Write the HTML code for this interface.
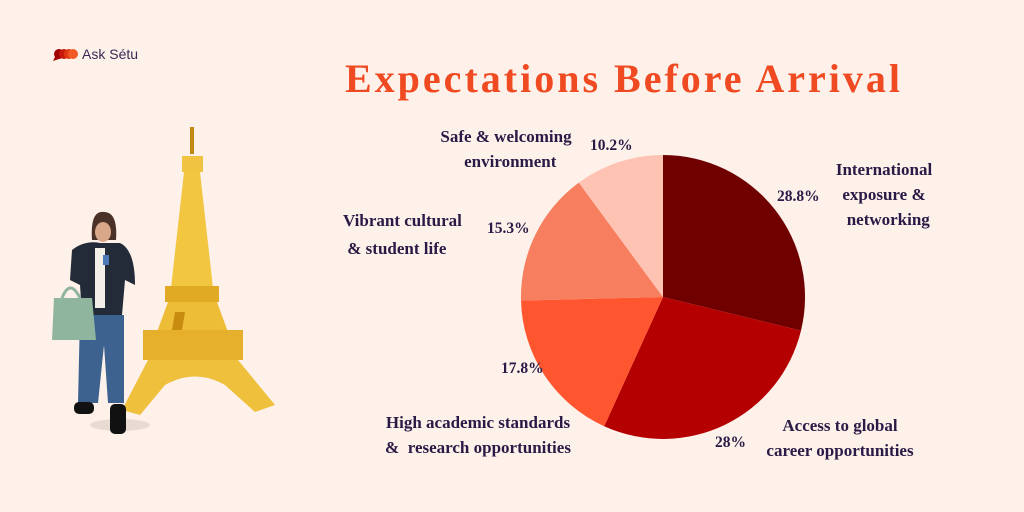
<!DOCTYPE html>
<html><head><style>
body{margin:0;width:1024px;height:512px;background:#fdf1ea;overflow:hidden;position:relative;font-family:"Liberation Serif",serif}
.t{position:absolute;font-weight:bold;color:#2a1a45;font-size:17px;line-height:25px;white-space:nowrap}
.p{font-size:15.5px}
.c{text-align:center}
</style></head><body>
<svg width="1024" height="512" style="position:absolute;left:0;top:0">
<g>
<circle cx="59" cy="54" r="5" fill="#a00000"/><circle cx="64" cy="54" r="5" fill="#c81a0a"/>
<circle cx="69" cy="54" r="5" fill="#e03a15"/><circle cx="73" cy="54" r="5" fill="#f25a25"/>
<path d="M55 57 L53 61 L59 59Z" fill="#a00000"/>
</g>
<text x="82" y="59" font-family="Liberation Sans,sans-serif" font-size="14" fill="#3a2a55">Ask Sétu</text>
<text x="345" y="92" font-family="Liberation Serif,serif" font-weight="bold" font-size="40" textLength="555" lengthAdjust="spacing" fill="#f04a22">Expectations Before Arrival</text>
<path d="M663 297 L663 155 A142 142 0 0 1 801 330.6Z" fill="#700000"/>
<path d="M663 297 L801 330.6 A142 142 0 0 1 604.2 426.2Z" fill="#b40000"/>
<path d="M663 297 L604.2 426.2 A142 142 0 0 1 521 300.6Z" fill="#ff5630"/>
<path d="M663 297 L521 300.6 A142 142 0 0 1 578.8 182.6Z" fill="#f77f60"/>
<path d="M663 297 L578.8 182.6 A142 142 0 0 1 663 155Z" fill="#ffc3b3"/>
<g fill="#e8b830">
<rect x="190" y="127" width="4" height="27" fill="#c08a10"/>
<path d="M182 156 L203 156 L203 172 L182 172Z" fill="#f0c440"/>
<path d="M184 172 L200 172 L213 288 L171 288Z" fill="#f2c640"/>
<rect x="165" y="286" width="54" height="16" fill="#e0aa25"/>
<path d="M168 302 L217 302 L228 332 L157 332Z" fill="#eebd38"/>
<rect x="143" y="330" width="100" height="30" fill="#e6b02c"/>
<path d="M148 360 L238 360 L275 405 L255 412 L225 385 Q195 368 165 385 L140 415 L122 410Z" fill="#efc03c"/>
<path d="M175 312 L185 312 L182 330 L172 330Z" fill="#c88d10"/>
</g>
<ellipse cx="120" cy="425" rx="30" ry="6" fill="#e8dcd2"/>
<path d="M92 240 Q90 210 104 212 Q118 212 116 240Z" fill="#4a3228"/>
<ellipse cx="103" cy="232" rx="8" ry="10" fill="#d9a88a"/>
<path d="M72 250 Q85 240 100 243 L120 243 Q135 250 135 285 L125 280 L122 315 L82 315 L80 285 L70 280Z" fill="#232a38"/>
<rect x="95" y="248" width="10" height="60" fill="#f2efe9"/>
<path d="M80 315 L124 315 L124 403 L108 403 L104 345 L98 403 L78 403Z" fill="#3d6290"/>
<rect x="74" y="402" width="20" height="12" rx="5" fill="#111"/>
<rect x="110" y="404" width="16" height="30" rx="5" fill="#111"/>
<path d="M54 298 L92 298 L96 340 L52 340Z" fill="#8fb59f"/>
<path d="M62 298 Q70 278 80 298" stroke="#8fb59f" stroke-width="3" fill="none"/>
<rect x="103" y="255" width="6" height="10" fill="#4a7ab8"/>
</svg>
<div class="t c" style="left:430px;width:152px;top:124px">Safe &amp; welcoming<br>&nbsp;&nbsp;environment</div>
<div class="t p" style="left:590px;top:133px">10.2%</div>
<div class="t" style="left:343px;top:207px;line-height:28px">Vibrant cultural<br>&nbsp;&amp; student life</div>
<div class="t p" style="left:487px;top:216px">15.3%</div>
<div class="t p" style="left:777px;top:184px">28.8%</div>
<div class="t c" style="left:824px;width:120px;top:157px">International<br>exposure &amp;<br>&nbsp;&nbsp;networking</div>
<div class="t p" style="left:501px;top:356px">17.8%</div>
<div class="t c" style="left:373px;width:210px;top:410px">High academic standards<br>&amp;&nbsp; research opportunities</div>
<div class="t p" style="left:715px;top:430px">28%</div>
<div class="t c" style="left:755px;width:170px;top:413px">Access to global<br>career opportunities</div>
</body></html>
